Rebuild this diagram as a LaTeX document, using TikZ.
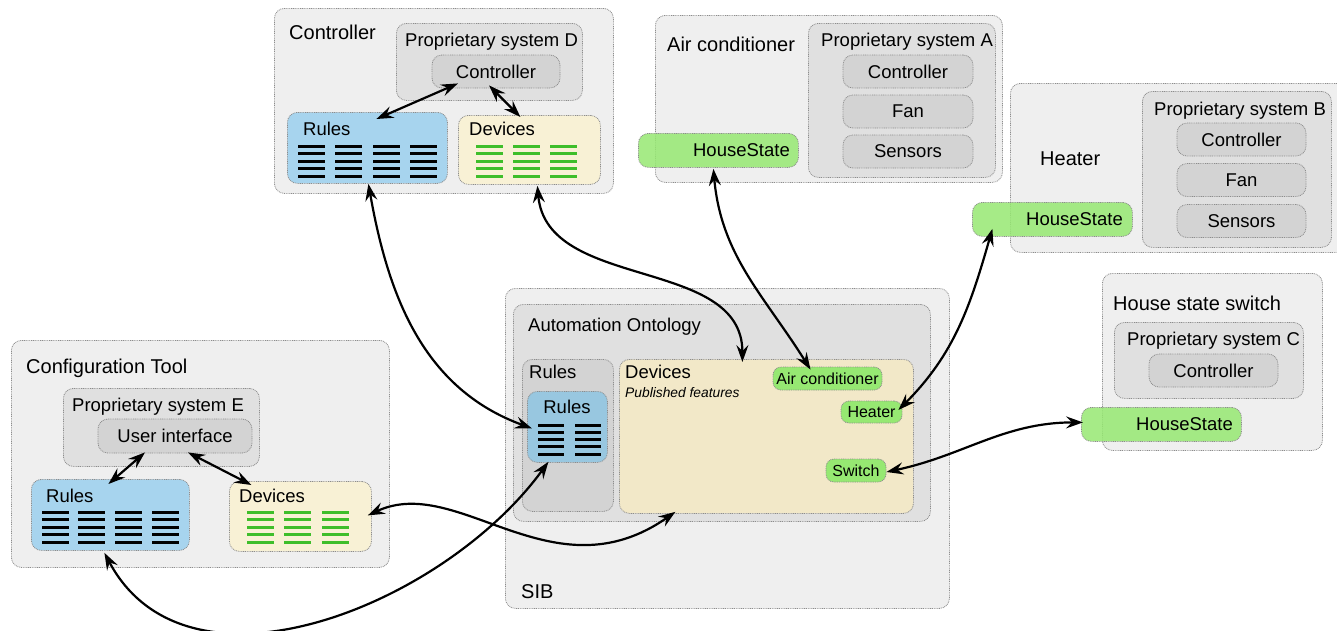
\documentclass[tikz,border=0pt]{standalone}
\usepackage{fontspec}
\setmainfont{Liberation Sans}
\usetikzlibrary{arrows.meta}

\definecolor{outergray}{HTML}{EFEFEF}
\definecolor{midgray}{HTML}{E0E0E0}
\definecolor{innergray}{HTML}{D3D3D3}
\definecolor{rulesblue}{HTML}{A7D4EE}
\definecolor{sibblue}{HTML}{98C7E0}
\definecolor{devyellow}{HTML}{F8F1D5}
\definecolor{sibyellow}{HTML}{F2E8C8}
\definecolor{housegreen}{HTML}{96E872}
\definecolor{bargreen}{HTML}{3EBE2A}
\definecolor{edgegray}{HTML}{8C8C8C}

\tikzset{
  box/.style={draw=edgegray, line width=0.8pt, dash pattern=on 0.9pt off 0.9pt, rounded corners=10pt, inner sep=0pt, anchor=north west},
  outerbox/.style={box, fill=outergray},
  sysbox/.style={box, fill=midgray},
  partbox/.style={box, fill=innergray, anchor=center, font=\fontsize{18.5}{20}\selectfont},
  rulesbox/.style={box, fill=rulesblue},
  devbox/.style={box, fill=devyellow},
  housebox/.style={box, fill=housegreen, fill opacity=0.85, text opacity=1},
  featbox/.style={box, fill=housegreen, anchor=center, rounded corners=8pt, font=\fontsize{16}{18}\selectfont},
  title/.style={anchor=base west, inner sep=0pt, font=\fontsize{20}{22}\selectfont},
  subtitle/.style={anchor=base west, inner sep=0pt, font=\fontsize{18.5}{20}\selectfont},
  link/.style={{Stealth[length=17pt,width=12pt,inset=6pt]}-{Stealth[length=17pt,width=12pt,inset=6pt]}, line width=2.2pt},
}

\begin{document}
\begin{tikzpicture}[x=1pt, y=1pt]
\useasboundingbox (0,0) rectangle (1337,-630);

\node[outerbox, minimum width=339pt, minimum height=185pt] (ctl) at (274,-8) {};
\node[title] at (289,-39.5) {Controller};
\node[sysbox, minimum width=186pt, minimum height=77pt] (sysd) at (396,-23) {};
\node[subtitle] at (405,-46.7) {Proprietary system D};
\node[partbox, minimum width=128pt, minimum height=33pt] (ctlcore) at (496,-71.5) {Controller};
\node[rulesbox, minimum width=160pt, minimum height=71pt] (ctlrules) at (287,-112) {};
\node[subtitle] at (303,-135) {Rules};
\node[devbox, minimum width=142pt, minimum height=69pt] (ctldev) at (458,-115) {};
\node[subtitle] at (469,-135) {Devices};
\foreach \x in {298,335,373,410}
  \foreach \y in {146,153.5,161,168.5,176}
    \draw[line width=3pt] (\x,-\y) -- ++(27,0);
\foreach \x in {476,513,550}
  \foreach \y in {146,153.5,161,168.5,176}
    \draw[line width=3pt, bargreen] (\x,-\y) -- ++(27,0);

\node[outerbox, minimum width=347pt, minimum height=167pt] (ac) at (655,-15) {};
\node[title] at (667,-51) {Air conditioner};
\node[sysbox, minimum width=187pt, minimum height=154pt] (sysa) at (808,-23) {};
\node[subtitle] at (821,-46) {Proprietary system A};
\node[partbox, minimum width=130pt, minimum height=33pt] (accore) at (908,-71.5) {Controller};
\node[partbox, minimum width=130pt, minimum height=33pt] (acfan) at (908,-111.5) {Fan};
\node[partbox, minimum width=130pt, minimum height=33pt] (acsens) at (908,-151.5) {Sensors};
\node[housebox, minimum width=160pt, minimum height=34pt] (achouse) at (638,-133) {};
\node[subtitle, anchor=base east] at (790,-156) {HouseState};

\node[outerbox, minimum width=340pt, minimum height=169pt] (heater) at (1010,-83) {};
\node[title] at (1040,-165) {Heater};
\node[sysbox, minimum width=189pt, minimum height=156pt] (sysb) at (1142,-91) {};
\node[subtitle] at (1154,-115) {Proprietary system B};
\node[partbox, minimum width=129pt, minimum height=33pt] (htrcore) at (1241.5,-139.5) {Controller};
\node[partbox, minimum width=129pt, minimum height=33pt] (htrfan) at (1241.5,-180) {Fan};
\node[partbox, minimum width=129pt, minimum height=33pt] (htrsens) at (1241.5,-221) {Sensors};
\node[housebox, minimum width=160pt, minimum height=34pt] (htrhouse) at (972,-202) {};
\node[subtitle, anchor=base east] at (1123,-225) {HouseState};

\node[outerbox, minimum width=220pt, minimum height=177pt] (hss) at (1102,-273) {};
\node[title] at (1113,-310) {House state switch};
\node[sysbox, minimum width=189pt, minimum height=76pt] (sysc) at (1114,-322) {};
\node[subtitle] at (1127,-345) {Proprietary system C};
\node[partbox, minimum width=129pt, minimum height=33pt] (hsscore) at (1213.5,-370.5) {Controller};
\node[housebox, minimum width=160pt, minimum height=34pt] (hsshouse) at (1081,-407) {};
\node[subtitle, anchor=base east] at (1233,-430) {HouseState};

\node[outerbox, minimum width=444pt, minimum height=320pt] (sib) at (505,-288) {};
\node[title] at (521,-598) {SIB};
\node[sysbox, minimum width=417pt, minimum height=217pt] (onto) at (513,-304) {};
\node[subtitle] at (528,-331) {Automation Ontology};
\node[box, fill=innergray, minimum width=91pt, minimum height=152pt] (sibrulesout) at (522,-359) {};
\node[subtitle] at (529,-378) {Rules};
\node[box, fill=sibblue, minimum width=80pt, minimum height=71pt] (sibrules) at (527,-391) {};
\node[subtitle, anchor=base] at (567,-413) {Rules};
\foreach \x in {538,575}
  \foreach \y in {425,432,439.5,446.5,454}
    \draw[line width=3pt] (\x,-\y) -- ++(26,0);
\node[box, fill=sibyellow, minimum width=294pt, minimum height=154pt] (sibdev) at (619,-359) {};
\node[subtitle] at (625,-378) {Devices};
\node[anchor=base west, inner sep=0pt, font=\fontsize{13.8}{16}\selectfont\itshape] at (625,-397) {Published features};
\node[featbox, minimum width=109pt, minimum height=23pt] (sibac) at (827.5,-378.5) {Air conditioner};
\node[featbox, minimum width=61pt, minimum height=22pt] (sibheater) at (871.5,-412) {Heater};
\node[featbox, minimum width=60pt, minimum height=23pt] (sibswitch) at (856,-470.5) {Switch};

\node[outerbox, minimum width=378pt, minimum height=227pt] (cfg) at (11,-340) {};
\node[title] at (26,-373) {Configuration Tool};
\node[sysbox, minimum width=196pt, minimum height=78pt] (syse) at (63,-388) {};
\node[subtitle] at (72,-411) {Proprietary system E};
\node[partbox, minimum width=154pt, minimum height=34pt] (ui) at (175,-436) {User interface};
\node[rulesbox, minimum width=158pt, minimum height=71pt] (cfgrules) at (31,-479) {};
\node[subtitle] at (46,-502) {Rules};
\node[devbox, minimum width=142pt, minimum height=70pt] (cfgdev) at (229,-481) {};
\node[subtitle] at (239,-502) {Devices};
\foreach \x in {42,78,115,152}
  \foreach \y in {512,519.5,527,534.5,542}
    \draw[line width=3pt] (\x,-\y) -- ++(27,0);
\foreach \x in {247,284,322}
  \foreach \y in {512,519.5,527,534.5,542}
    \draw[line width=3pt, bargreen] (\x,-\y) -- ++(27,0);

\draw[link] ([shift={(9,-7)}]ctlrules.north) -- ([shift={(-38,5)}]ctlcore.south);
\draw[link] ([shift={(-7,3)}]ctlcore.south) -- ([shift={(-9,-2)}]ctldev.north);
\draw[link] ([shift={(-2,-5)}]cfgrules.north) -- ([shift={(-30,1)}]ui.south);
\draw[link] ([shift={(13,1)}]ui.south) -- ([shift={(-49,-4)}]cfgdev.north);
\draw[link] ([xshift=1pt]ctlrules.south) to[out=-80, in=160] ([shift={(5,-1.5)}]sibrules.west);
\draw[link] ([shift={(8,-1)}]ctldev.south) to[out=-85, in=90] ([shift={(-24,-3)}]sibdev.north);
\draw[link] ([shift={(-5,-1)}]achouse.south) to[out=-85, in=122] ([shift={(-17,-3)}]sibac.north);
\draw[link] ([shift={(-60,8)}]htrhouse.south) to[out=-106, in=45] ([shift={(-4,2)}]sibheater.east);
\draw[link] ([shift={(0,-1.5)}]sibswitch.east) to[out=12, in=180] ([shift={(2,2)}]hsshouse.west);
\draw[link] ([shift={(-4,1)}]cfgdev.east) .. controls +(25:100) and +(-145:150) .. ([shift={(-91,2)}]sibdev.south);
\draw[link] ([shift={(-6,-2)}]cfgrules.south) to[out=-62, in=-126] ([shift={(-19,1)}]sibrules.south);
\end{tikzpicture}
\end{document}
